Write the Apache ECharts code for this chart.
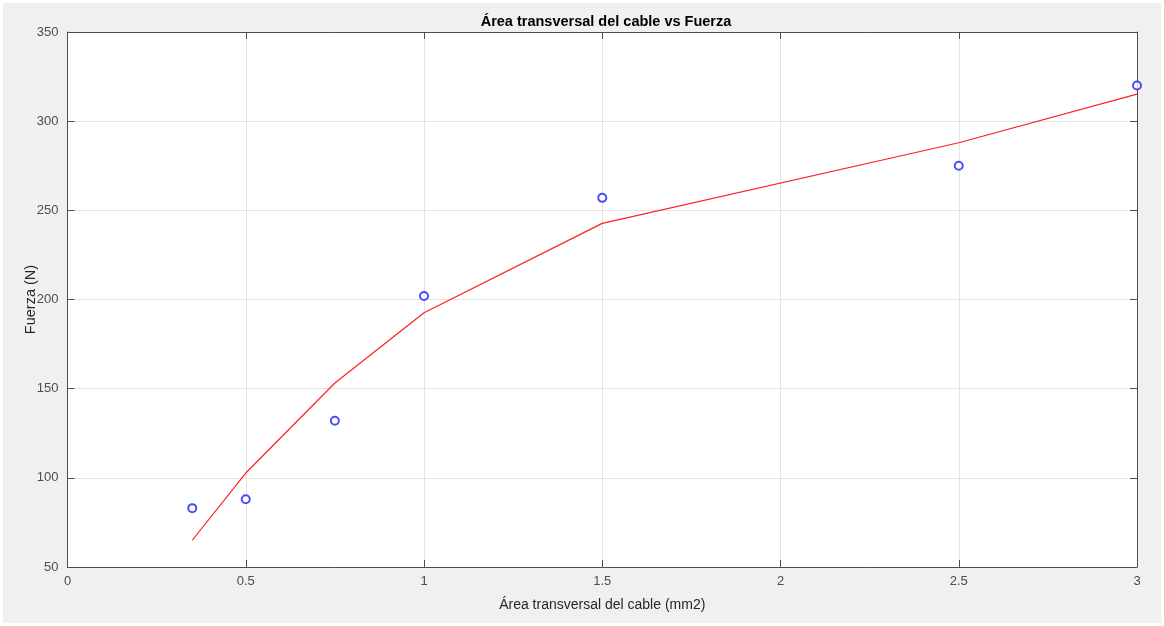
<!DOCTYPE html>
<html>
<head>
<meta charset="utf-8">
<script src="https://cdn.jsdelivr.net/npm/echarts@6/dist/echarts.min.js"></script>
<style>
  html, body { margin: 0; padding: 0; background: #ffffff; }
  #chart { position: absolute; left: 3px; top: 3px; width: 1158px; height: 620px; background: #f0f0f0; }
</style>
</head>
<body>
<div id="chart"></div>
<script>
// measured points (blue circles)
const areaData = [0.35, 0.5, 0.75, 1, 1.5, 2.5, 3]
const fuerzaData = [83, 88, 132, 202, 257, 275, 320]
// fitted curve (red line)
const ajusteData = [65, 102.7, 153.2, 192.6, 242.7, 287.9, 315.2]

const axisColor = '#4d4d4d'
const font = 'Liberation Sans, Arial, sans-serif'

const chart = echarts.init(document.getElementById('chart'))

const option = {
  animation: false,
  title: {
    text: 'Área transversal del cable vs Fuerza',
    left: 598,
    top: 6,
    textAlign: 'center',
    textStyle: { fontFamily: font, fontSize: 14.5, fontWeight: 'bold', color: '#000' }
  },
  grid: {
    left: 64.5,
    right: 24,
    top: 29,
    bottom: 56,
    backgroundColor: '#ffffff',
    show: true,
    borderWidth: 0
  },
  xAxis: [
    {
      type: 'value',
      min: 0,
      max: 3,
      interval: 0.5,
      name: 'Área transversal del cable (mm2)',
      nameLocation: 'middle',
      nameGap: 31,
      nameTextStyle: { fontFamily: font, fontSize: 14, color: '#262626' },
      axisLine: { show: true, onZero: false, lineStyle: { color: axisColor, width: 1 } },
      axisTick: { show: true, inside: true, length: 7, lineStyle: { color: axisColor } },
      axisLabel: { fontFamily: font, fontSize: 13, color: '#4d4d4d', margin: 8 },
      splitLine: { show: true, lineStyle: { color: '#e3e3e3', width: 1 } }
    },
    {
      type: 'value',
      position: 'top',
      min: 0,
      max: 3,
      interval: 0.5,
      axisLine: { show: true, onZero: false, lineStyle: { color: axisColor, width: 1 } },
      axisTick: { show: true, inside: true, length: 7, lineStyle: { color: axisColor } },
      axisLabel: { show: false },
      splitLine: { show: false }
    }
  ],
  yAxis: [
    {
      type: 'value',
      min: 50,
      max: 350,
      interval: 50,
      name: 'Fuerza (N)',
      nameLocation: 'middle',
      nameGap: 29,
      nameMoveOverlap: false,
      nameTextStyle: { fontFamily: font, fontSize: 14.5, color: '#262626' },
      axisLine: { show: true, onZero: false, lineStyle: { color: axisColor, width: 1 } },
      axisTick: { show: true, inside: true, length: 7, lineStyle: { color: axisColor } },
      axisLabel: { fontFamily: font, fontSize: 13, color: '#4d4d4d', margin: 9 },
      splitLine: { show: true, lineStyle: { color: '#e3e3e3', width: 1 } }
    },
    {
      type: 'value',
      position: 'right',
      min: 50,
      max: 350,
      interval: 50,
      axisLine: { show: true, onZero: false, lineStyle: { color: axisColor, width: 1 } },
      axisTick: { show: true, inside: true, length: 7, lineStyle: { color: axisColor } },
      axisLabel: { show: false },
      splitLine: { show: false }
    }
  ],
  series: [
    {
      name: 'Ajuste',
      type: 'line',
      data: areaData.map((x, i) => [x, ajusteData[i]]),
      showSymbol: false,
      lineStyle: { color: '#ff2020', width: 1.2 },
      z: 2
    },
    {
      name: 'Datos',
      type: 'scatter',
      data: areaData.map((x, i) => [x, fuerzaData[i]]),
      symbol: 'emptyCircle',
      symbolSize: 8,
      itemStyle: { color: '#2020ff', borderWidth: 1.2 },
      z: 3
    }
  ]
}

chart.setOption(option)
</script>
</body>
</html>
